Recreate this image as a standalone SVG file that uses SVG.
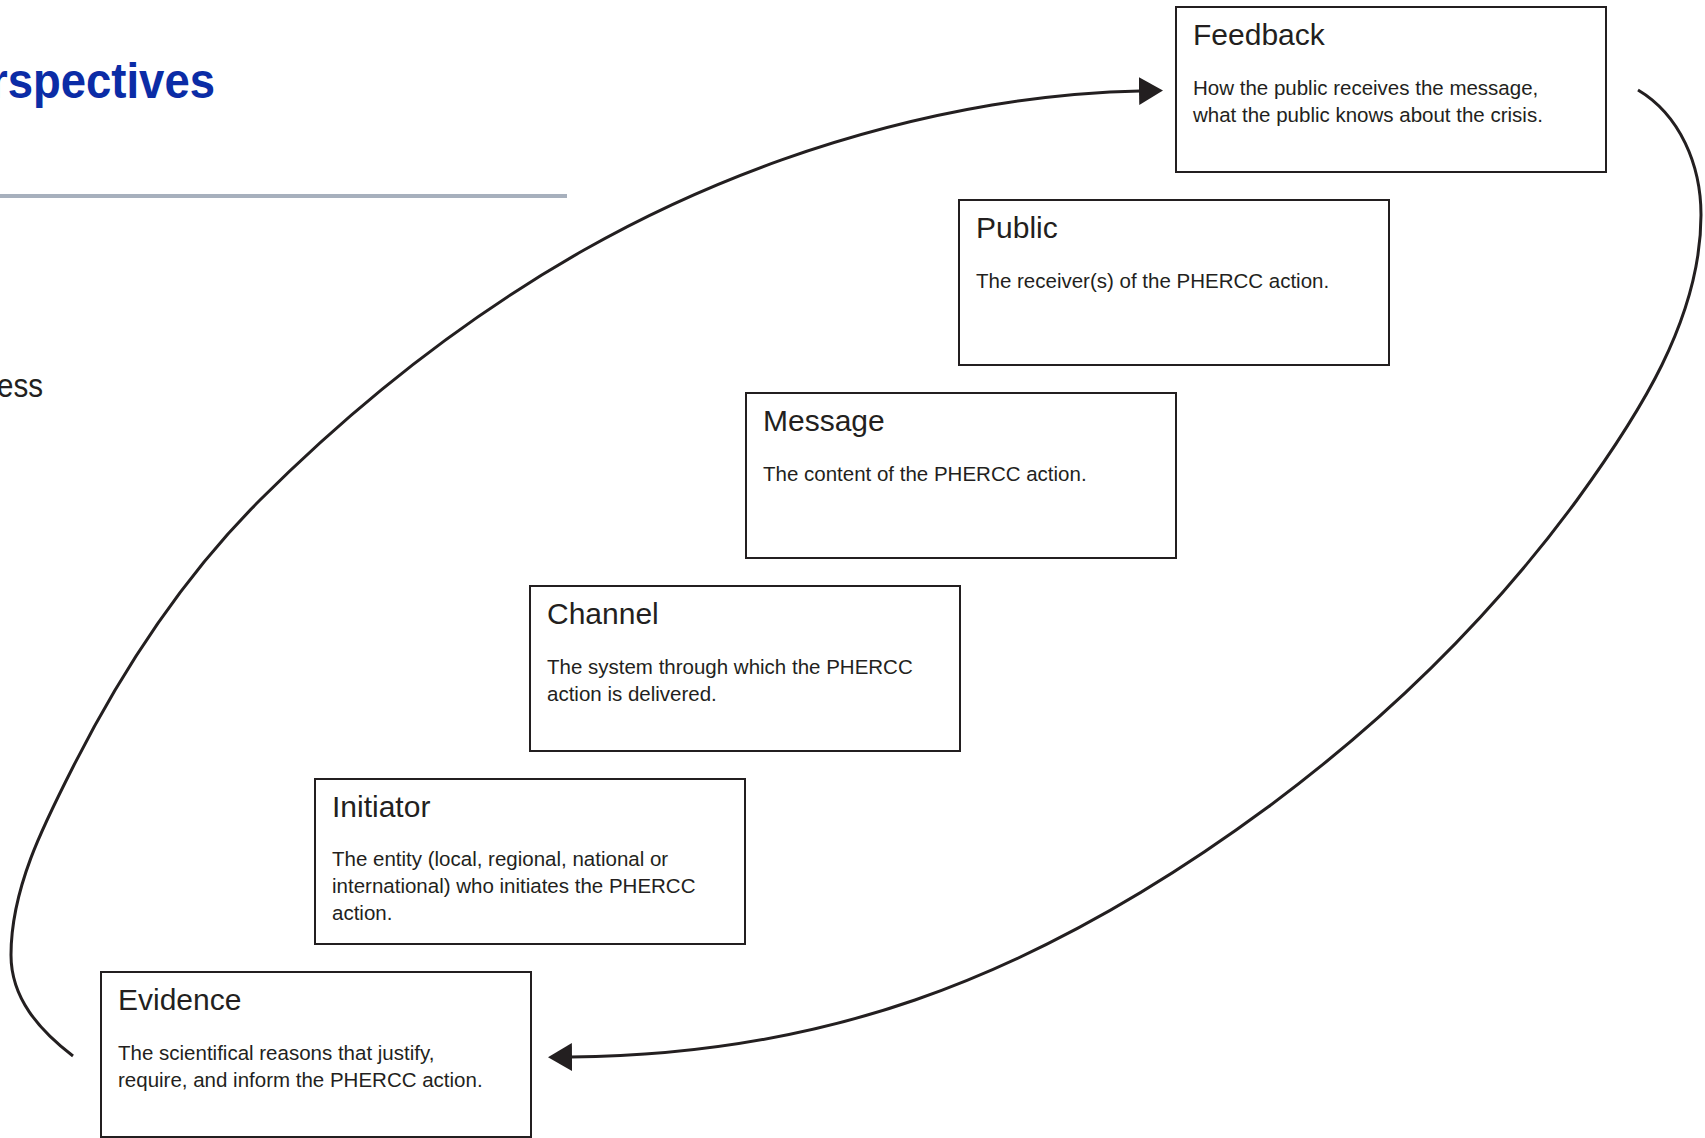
<svg xmlns="http://www.w3.org/2000/svg" width="1705" height="1138" viewBox="0 0 1705 1138">
  <style>
    .box { fill: #ffffff; stroke: #231f20; stroke-width: 2; }
    .ttl { font-family: "Liberation Sans", Arial, sans-serif; font-size: 30px; fill: #231f20; }
    .txt { font-family: "Liberation Sans", Arial, sans-serif; font-size: 20.5px; fill: #231f20; }
    .curve { fill: none; stroke: #231f20; stroke-width: 3; }
  </style>
  <defs>
    <marker id="ah" markerUnits="userSpaceOnUse" markerWidth="26" markerHeight="30" refX="1" refY="14" orient="auto" viewBox="0 0 26 28">
      <path d="M0,0 L24,14 L0,28 z" fill="#231f20"/>
    </marker>
  </defs>
  <rect width="1705" height="1138" fill="#ffffff"/>

  <g id="page-fragments">
    <text x="-10" y="98" font-family="'Liberation Sans', Arial, sans-serif" font-weight="bold" font-size="50" fill="#0b2ca6" textLength="225" lengthAdjust="spacingAndGlyphs">rspectives</text>
    <line x1="0" y1="196" x2="567" y2="196" stroke="#a7b0bd" stroke-width="4"/>
    <text x="-3" y="397" font-family="'Liberation Sans', Arial, sans-serif" font-size="33" fill="#231f20" textLength="46" lengthAdjust="spacingAndGlyphs">ess</text>
  </g>

  <g id="connectors">
    <path class="curve" marker-end="url(#ah)" d="M73,1056 C39,1030 11,998 11,955 C11,889 43,826 73,767 C122,670 183,577 260,500 C356,404 466,317 584,250 C709,179 850,129 992,105 C1041,97 1090,92 1140,91"/>
    <path class="curve" marker-end="url(#ah)" d="M1638,90 C1680,115 1701,165 1701,215 C1701,319 1638,416 1577,500 C1491,617 1384,721 1268,807 C1161,886 1042,956 915,1000 C805,1038 687,1056 571,1057"/>
  </g>

  <g id="feedback">
    <rect class="box" x="1176" y="7" width="430" height="165"/>
    <text class="ttl" x="1193" y="45">Feedback</text>
    <text class="txt" x="1193" y="95">How the public receives the message,</text>
    <text class="txt" x="1193" y="122">what the public knows about the crisis.</text>
  </g>

  <g id="public">
    <rect class="box" x="959" y="200" width="430" height="165"/>
    <text class="ttl" x="976" y="238">Public</text>
    <text class="txt" x="976" y="288">The receiver(s) of the PHERCC action.</text>
  </g>

  <g id="message">
    <rect class="box" x="746" y="393" width="430" height="165"/>
    <text class="ttl" x="763" y="431">Message</text>
    <text class="txt" x="763" y="481">The content of the PHERCC action.</text>
  </g>

  <g id="channel">
    <rect class="box" x="530" y="586" width="430" height="165"/>
    <text class="ttl" x="547" y="624">Channel</text>
    <text class="txt" x="547" y="674">The system through which the PHERCC</text>
    <text class="txt" x="547" y="701">action is delivered.</text>
  </g>

  <g id="initiator">
    <rect class="box" x="315" y="779" width="430" height="165"/>
    <text class="ttl" x="332" y="817">Initiator</text>
    <text class="txt" x="332" y="866">The entity (local, regional, national or</text>
    <text class="txt" x="332" y="893">international) who initiates the PHERCC</text>
    <text class="txt" x="332" y="920">action.</text>
  </g>

  <g id="evidence">
    <rect class="box" x="101" y="972" width="430" height="165"/>
    <text class="ttl" x="118" y="1010">Evidence</text>
    <text class="txt" x="118" y="1060">The scientifical reasons that justify,</text>
    <text class="txt" x="118" y="1087">require, and inform the PHERCC action.</text>
  </g>
</svg>
